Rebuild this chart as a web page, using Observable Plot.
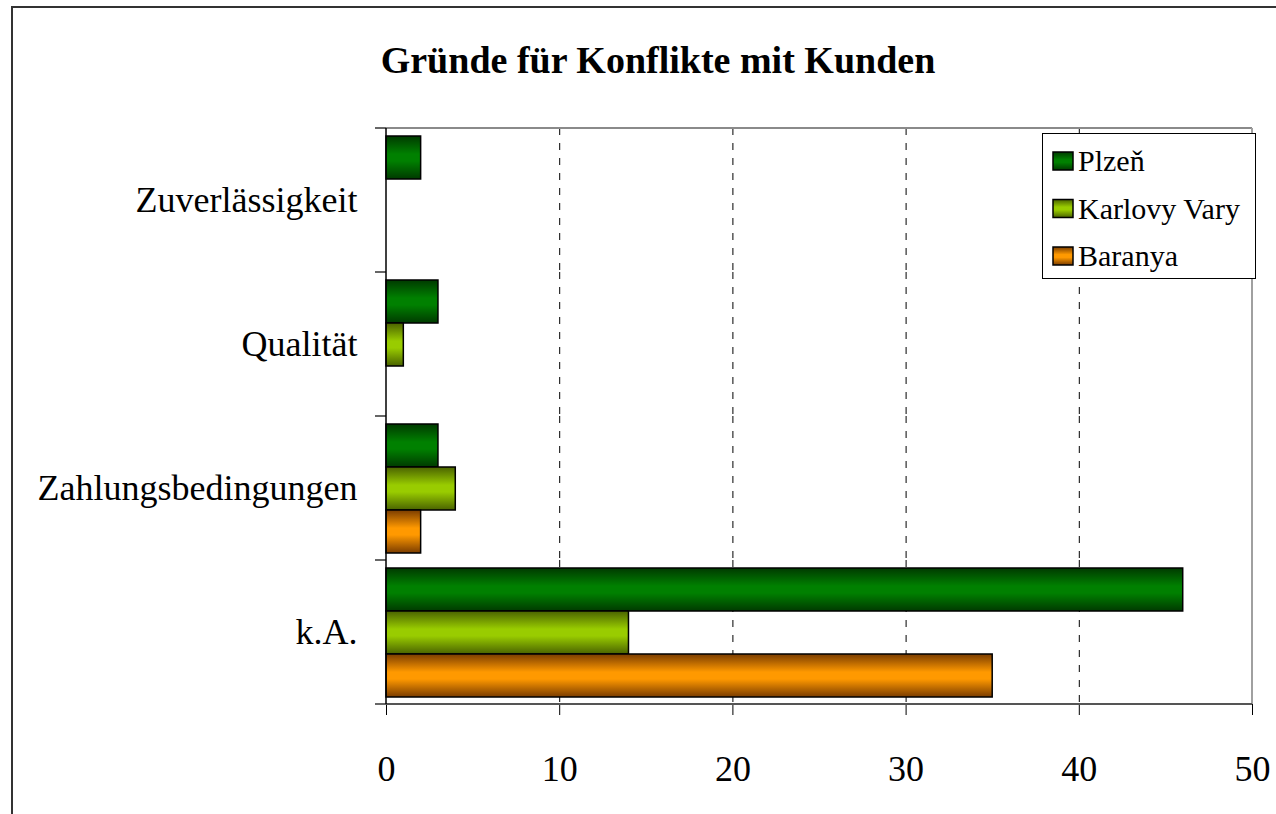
<!DOCTYPE html>
<html>
<head>
<meta charset="utf-8">
<script src="https://cdn.jsdelivr.net/npm/d3@7"></script>
<script src="https://cdn.jsdelivr.net/npm/@observablehq/plot@0.6"></script>
<style>
  html, body { margin: 0; padding: 0; background: #fff; }
  #wrap { position: relative; width: 1276px; height: 814px; overflow: hidden; background: #fff;
          font-family: "Liberation Serif", "Times New Roman", serif; }
  #border { position: absolute; left: 11px; top: 6px; width: 2000px; height: 2000px;
            border-top: 2px solid #333; border-left: 2px solid #333; }
  #title { position: absolute; left: 0; top: 41px; width: 1316px; text-align: center;
           font-family: "Liberation Serif", "Times New Roman", serif;
           font-size: 38px; font-weight: bold; line-height: 38px; color: #000; }
  #chart { position: absolute; left: 0; top: 0; }
</style>
</head>
<body>
<div id="wrap">
  <div id="border"></div>
  <div id="chart"></div>
  <div id="title"></div>
</div>
<script>
// ---- data ----
const chartTitle = "Gründe für Konflikte mit Kunden";
const categories = ["Zuverlässigkeit", "Qualität", "Zahlungsbedingungen", "k.A."];
const series = ["Plzeň", "Karlovy Vary", "Baranya"];
const plzen = [2, 3, 3, 46];
const karlovyVary = [0, 1, 4, 14];
const baranya = [0, 0, 2, 35];
const xTicks = [0, 10, 20, 30, 40, 50];
const gridValues = [10, 20, 30, 40];
const darkColors = ["#003a00", "#4a6300", "#7a3c00"];
const lightColors = ["#008000", "#99cc00", "#ff9900"];

const seriesValues = [plzen, karlovyVary, baranya];
const data = [];
categories.forEach((c, ci) => {
  series.forEach((s, si) => {
    data.push({category: c, series: s, value: seriesValues[si][ci]});
  });
});
const gradIds = series.map((s, i) => "grad" + i);
const serif = "'Liberation Serif', 'Times New Roman', serif";

document.getElementById("title").textContent = chartTitle;

const plot = Plot.plot({
  width: 1276,
  height: 814,
  marginLeft: 386,
  marginRight: 24,
  marginTop: 128,
  marginBottom: 110,
  style: {fontFamily: serif, fontSize: "36px", color: "#000", background: "transparent"},
  facet: {data: data, y: "category"},
  fy: {domain: categories, padding: 0, axis: "left", tickSize: 0, tickPadding: 29, label: null},
  y: {domain: series, axis: null, paddingInner: 0, paddingOuter: 0.174},
  x: {domain: [0, 50], ticks: xTicks, tickSize: 11, tickPadding: 40, label: null, tickFormat: d => String(d)},
  color: {domain: series, range: gradIds.map(id => `url(#${id})`)},
  marks: [
    Plot.ruleX(gridValues, {stroke: "#000", strokeWidth: 1, strokeDasharray: "7,8"}),
    Plot.barX(data, {x: "value", y: "series", fill: "series", stroke: "#000", strokeWidth: 1.5,
                     filter: d => d.value > 0})
  ]
});

document.getElementById("chart").appendChild(plot);

// gradients + frame lines using the plot's scales
const svg = d3.select(plot.tagName.toLowerCase() === "svg" ? plot : plot.querySelector("svg"));
const defs = svg.insert("defs", ":first-child");
series.forEach((s, i) => {
  const g = defs.append("linearGradient").attr("id", gradIds[i])
    .attr("x1", 0).attr("y1", 0).attr("x2", 0).attr("y2", 1);
  [[0, darkColors[i]], [0.42, lightColors[i]], [0.58, lightColors[i]], [1, darkColors[i]]].forEach(([o, c]) =>
    g.append("stop").attr("offset", o).attr("stop-color", c));
});

const xs = plot.scale("x");
const fys = plot.scale("fy");
const xr = xs.range;
const fr = fys.range;
const step = (fr[1] - fr[0]) / categories.length;
const fyStart = c => fys.apply ? fys.apply(c) : fr[0] + categories.indexOf(c) * step;
const x0 = xr[0], x1 = xr[1], yTop = fr[0], yBot = fr[1];

const g = svg.append("g");
g.append("line").attr("x1", x0).attr("x2", x1).attr("y1", yTop).attr("y2", yTop).attr("stroke", "#8a8a8a").attr("stroke-width", 2);
g.append("line").attr("x1", x1).attr("x2", x1).attr("y1", yTop).attr("y2", yBot).attr("stroke", "#a0a0a0").attr("stroke-width", 2);
g.append("line").attr("x1", x0).attr("x2", x1).attr("y1", yBot).attr("y2", yBot).attr("stroke", "#555").attr("stroke-width", 2);
g.append("line").attr("x1", x0).attr("x2", x0).attr("y1", yTop).attr("y2", yBot).attr("stroke", "#000").attr("stroke-width", 1.5);
const bounds = categories.map(fyStart).concat([yBot]);
bounds.forEach(b => {
  g.append("line").attr("x1", x0 - 11).attr("x2", x0).attr("y1", b).attr("y2", b).attr("stroke", "#000").attr("stroke-width", 1.2);
});

// legend (inside the svg, top right of the plot area)
const lg = svg.append("g").attr("font-family", serif).attr("font-size", 30).attr("text-anchor", "start");
const lx = 1042, ly = 133, lw = 213, lh = 145, rowH = 47.5, rowTop = 28;
lg.append("rect").attr("x", lx + 0.5).attr("y", ly + 0.5).attr("width", lw).attr("height", lh)
  .attr("fill", "#fff").attr("stroke", "#000").attr("stroke-width", 1);
series.forEach((s, i) => {
  const cy = ly + rowTop + i * rowH;
  lg.append("rect").attr("x", lx + 11).attr("y", cy - 9).attr("width", 20).attr("height", 18)
    .attr("fill", `url(#${gradIds[i]})`).attr("stroke", "#000").attr("stroke-width", 1.5);
  lg.append("text").attr("x", lx + 36).attr("y", cy).attr("dy", "0.34em")
    .attr("text-anchor", "start").attr("fill", "#000").text(s);
});
</script>
</body>
</html>
